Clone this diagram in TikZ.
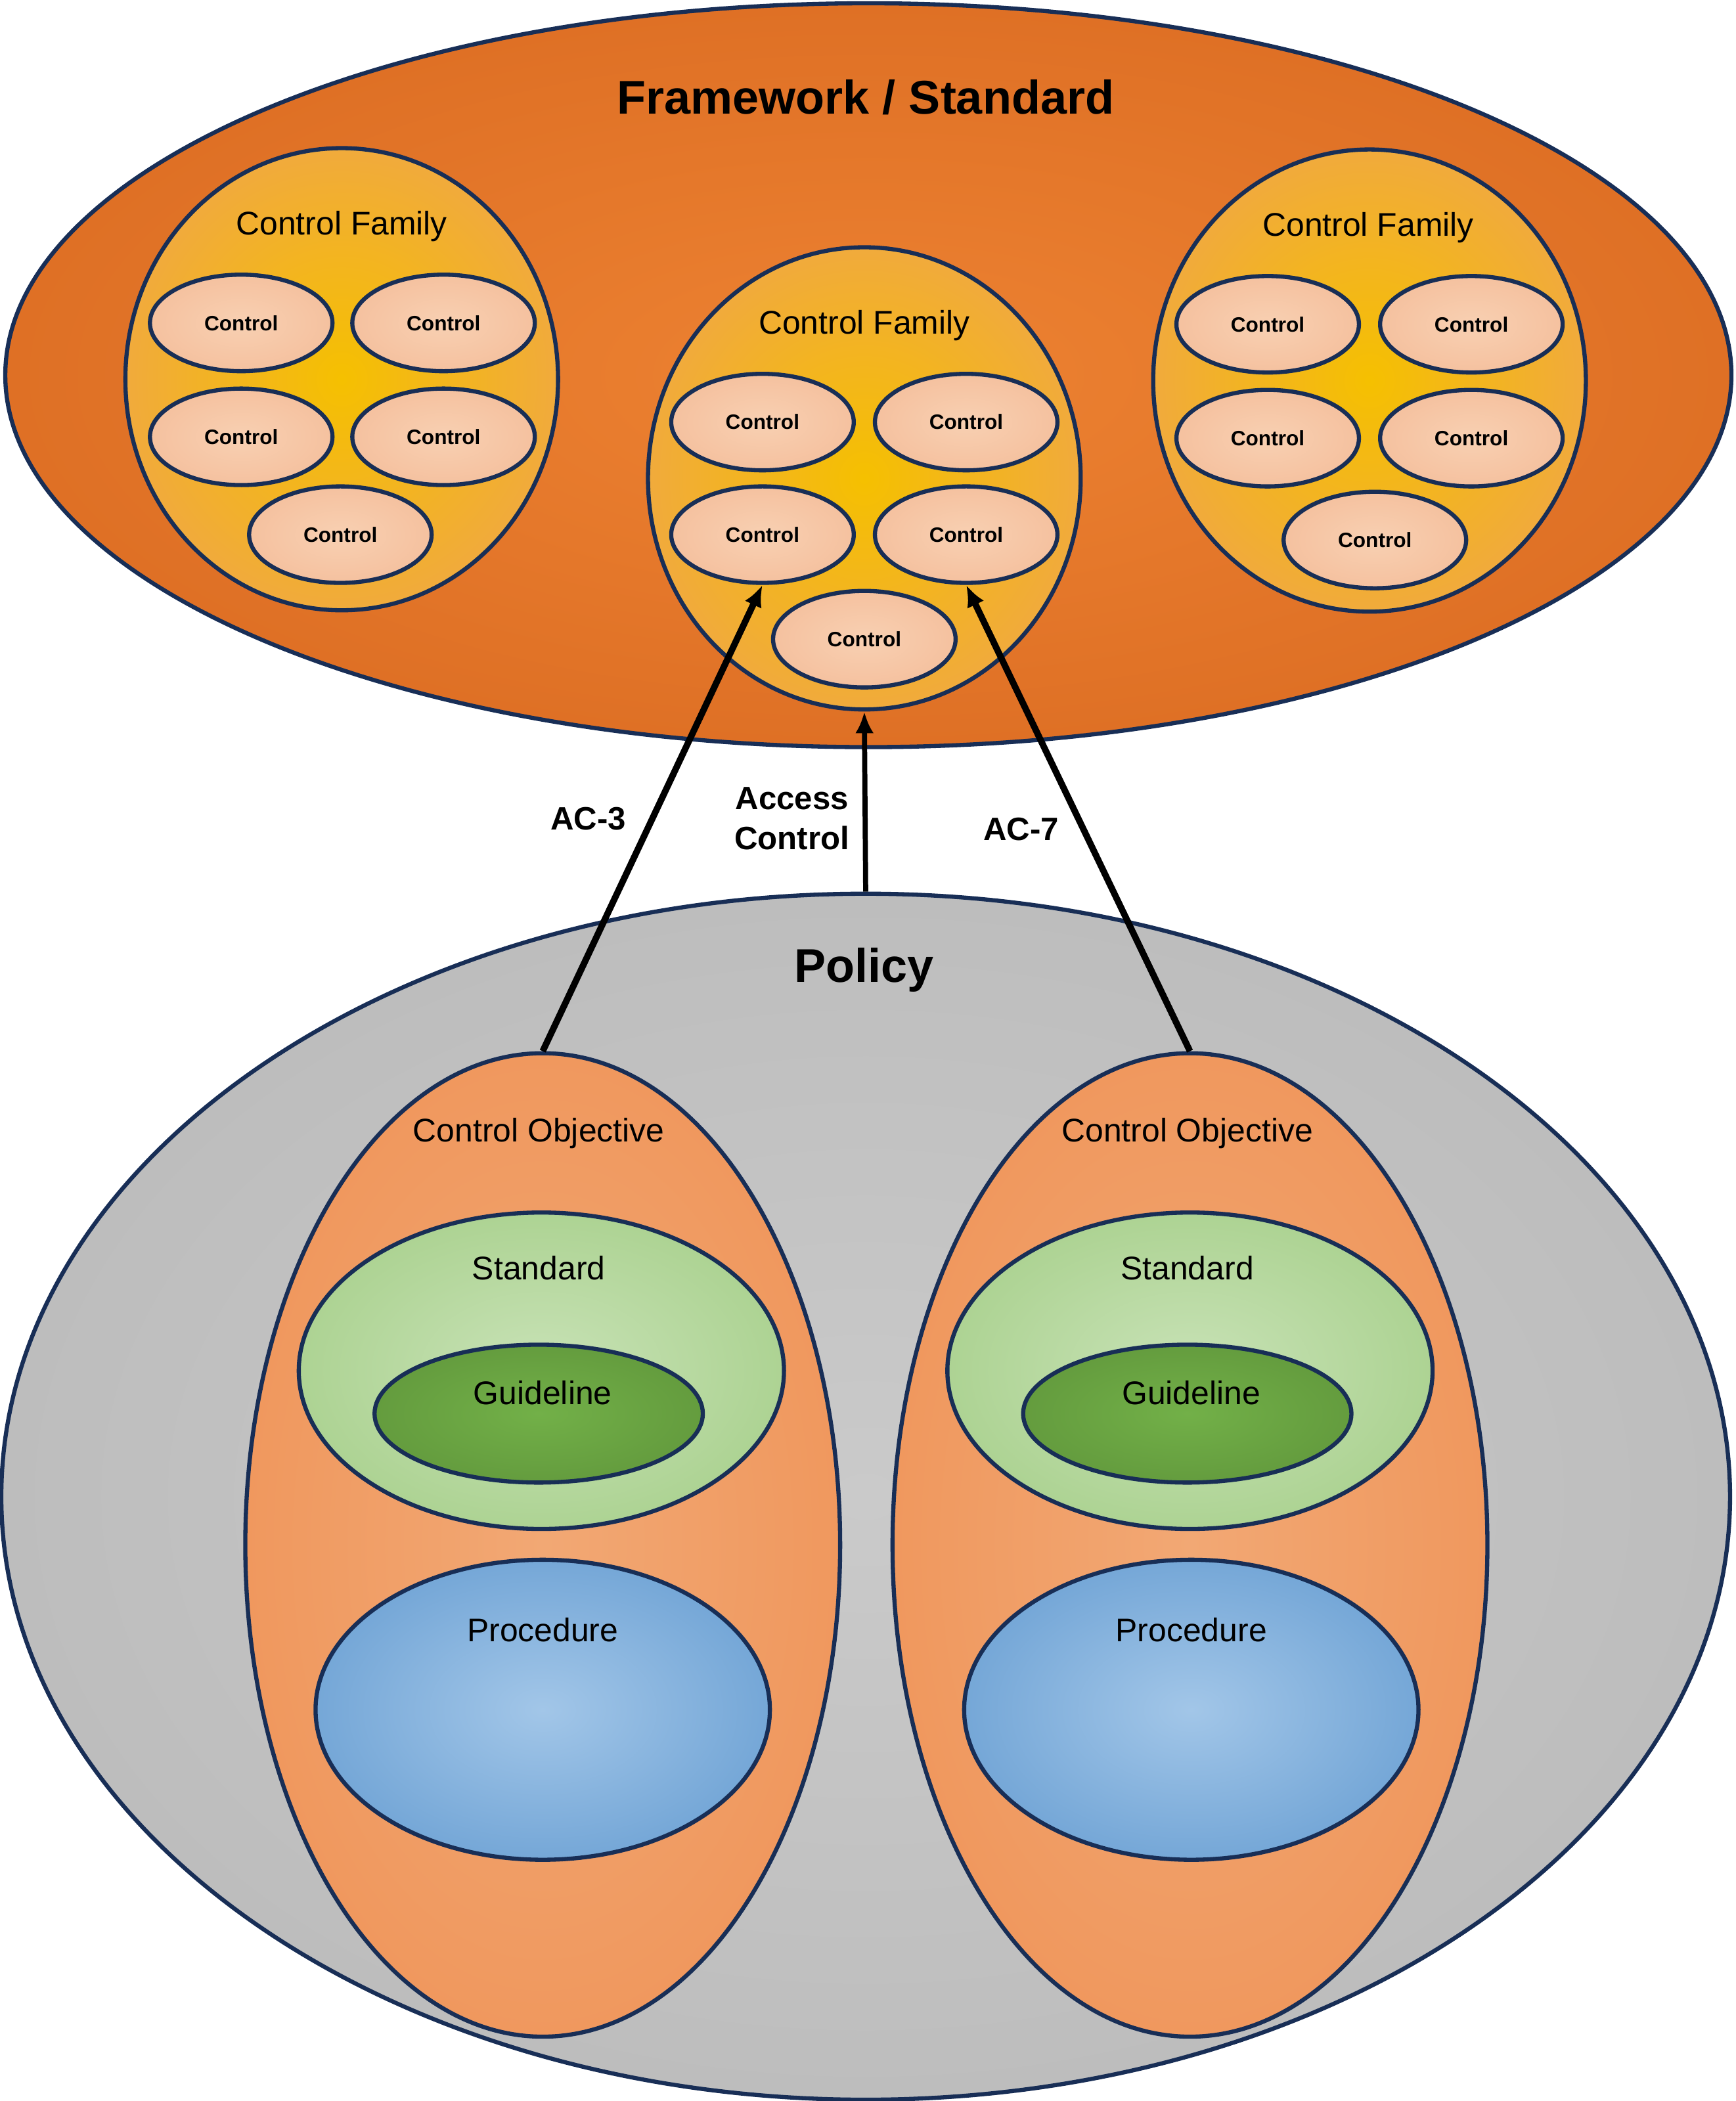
\documentclass[tikz,border=0pt]{standalone}
\usepackage{fontspec}
\setmainfont{Liberation Sans}
\usetikzlibrary{arrows.meta,shapes.geometric}

\definecolor{edgeblue}{RGB}{24,46,86}
\definecolor{fwin}{RGB}{237,130,50}
\definecolor{fwout}{RGB}{208,94,24}
\definecolor{cfin}{RGB}{245,192,0}
\definecolor{cfout}{RGB}{240,166,72}
\definecolor{ctin}{RGB}{248,208,178}
\definecolor{ctout}{RGB}{242,178,140}
\definecolor{polin}{RGB}{202,202,202}
\definecolor{polout}{RGB}{176,176,176}
\definecolor{coin}{RGB}{242,168,116}
\definecolor{coout}{RGB}{237,136,72}
\definecolor{stin}{RGB}{200,226,182}
\definecolor{stout}{RGB}{146,196,112}
\definecolor{gdin}{RGB}{114,176,72}
\definecolor{gdout}{RGB}{86,136,52}
\definecolor{prin}{RGB}{162,198,232}
\definecolor{prout}{RGB}{72,136,198}

\pgfdeclareradialshading{fwshade}{\pgfpoint{0bp}{0bp}}{color(0bp)=(fwin);color(50bp)=(fwout)}
\pgfdeclareradialshading{cfshade}{\pgfpoint{0bp}{0bp}}{color(0bp)=(cfin);color(30bp)=(cfout);color(50bp)=(cfout)}
\pgfdeclareradialshading{ctshade}{\pgfpoint{0bp}{0bp}}{color(0bp)=(ctin);color(50bp)=(ctout)}
\pgfdeclareradialshading{polshade}{\pgfpoint{0bp}{0bp}}{color(0bp)=(polin);color(50bp)=(polout)}
\pgfdeclareradialshading{coshade}{\pgfpoint{0bp}{0bp}}{color(0bp)=(coin);color(50bp)=(coout)}
\pgfdeclareradialshading{stshade}{\pgfpoint{0bp}{0bp}}{color(0bp)=(stin);color(50bp)=(stout)}
\pgfdeclareradialshading{gdshade}{\pgfpoint{0bp}{0bp}}{color(0bp)=(gdin);color(50bp)=(gdout)}
\pgfdeclareradialshading{prshade}{\pgfpoint{0bp}{0bp}}{color(0bp)=(prin);color(50bp)=(prout)}

\begin{document}
\begin{tikzpicture}[x=0.2041mm,y=-0.2041mm,
    blob/.style={ellipse,draw=edgeblue,line width=1.8pt,inner sep=0pt,shade},
    family/.style={blob,shading=cfshade,minimum width=65.9mm,minimum height=70.4mm},
    ctrl/.style={blob,shading=ctshade,minimum width=27.8mm,minimum height=14.7mm,font=\fontsize{9}{10}\selectfont\bfseries},
    objective/.style={blob,shading=coshade,minimum width=90.6mm,minimum height=149.8mm},
    stdblob/.style={blob,shading=stshade,minimum width=73.9mm,minimum height=48.2mm},
    guideblob/.style={blob,shading=gdshade,minimum width=50mm,minimum height=21mm},
    procblob/.style={blob,shading=prshade,minimum width=69.2mm,minimum height=45.7mm},
    biglabel/.style={anchor=base,font=\fontsize{20.5}{24}\selectfont\bfseries},
    label/.style={anchor=base,font=\fontsize{14.2}{17}\selectfont},
    maplabel/.style={font=\fontsize{14}{17.4}\selectfont\bfseries,align=center},
    maparrow/.style={line width=2.8pt,-{Latex[length=3.3mm,width=2.8mm]}}]
    \path[use as bounding box,fill=white] (0,0) rectangle (1295,1568);

    % framework and its control families
    \node[blob,shading=fwshade,minimum width=262.9mm,minimum height=113.3mm] (fw) at (648,280) {};
    \node[biglabel] (fwtitle) at (646,85) {Framework / Standard};

    \node[family] (cf1) at (255,283) {};
    \node[family] (cf2) at (645,357) {};
    \node[family] (cf3) at (1022,284) {};
    \node[label] (cf1title) at (255,175) {Control Family};
    \node[label] (cf2title) at (645,249) {Control Family};
    \node[label] (cf3title) at (1021,176) {Control Family};

    \node[ctrl] (c11) at (180,241) {Control};
    \node[ctrl] (c12) at (331,241) {Control};
    \node[ctrl] (c13) at (180,326) {Control};
    \node[ctrl] (c14) at (331,326) {Control};
    \node[ctrl] (c15) at (254,399) {Control};

    \node[ctrl] (c21) at (569,315) {Control};
    \node[ctrl] (c22) at (721,315) {Control};
    \node[ctrl] (c23) at (569,399) {Control};
    \node[ctrl] (c24) at (721,399) {Control};
    \node[ctrl] (c25) at (645,477) {Control};

    \node[ctrl] (c31) at (946,242) {Control};
    \node[ctrl] (c32) at (1098,242) {Control};
    \node[ctrl] (c33) at (946,327) {Control};
    \node[ctrl] (c34) at (1098,327) {Control};
    \node[ctrl] (c35) at (1026,403) {Control};

    % policy side
    \node[blob,shading=polshade,minimum width=263.3mm,minimum height=183.7mm] (policy) at (646,1117) {};
    \node[biglabel] (poltitle) at (645,733) {Policy};

    \node[objective] (co1) at (405,1153) {};
    \node[objective] (co2) at (888,1153) {};
    \node[label] (co1title) at (402,852) {Control Objective};
    \node[label] (co2title) at (886,852) {Control Objective};

    \node[stdblob] (std1) at (404,1023) {};
    \node[stdblob] (std2) at (888,1023) {};
    \node[label] (std1title) at (402,955) {Standard};
    \node[label] (std2title) at (886,955) {Standard};

    \node[guideblob] (gdl1) at (402,1055) {};
    \node[guideblob] (gdl2) at (886,1055) {};
    \node[label] (gdl1title) at (405,1048) {Guideline};
    \node[label] (gdl2title) at (889,1048) {Guideline};

    \node[procblob] (prc1) at (405,1276) {};
    \node[procblob] (prc2) at (889,1276) {};
    \node[label] (prc1title) at (405,1225) {Procedure};
    \node[label] (prc2title) at (889,1225) {Procedure};

    % mappings
    \draw[maparrow] (co1.north) -- (c23.south);
    \draw[maparrow] (co2.north) -- (c24.south);
    \draw[maparrow,line width=2.2pt] (policy.north) -- (cf2.south);
    \node[maplabel] (ac3) at (439,611) {AC-3};
    \node[maplabel] (access) at (591,611) {Access\\Control};
    \node[maplabel] (ac7) at (762,619) {AC-7};
\end{tikzpicture}
\end{document}
